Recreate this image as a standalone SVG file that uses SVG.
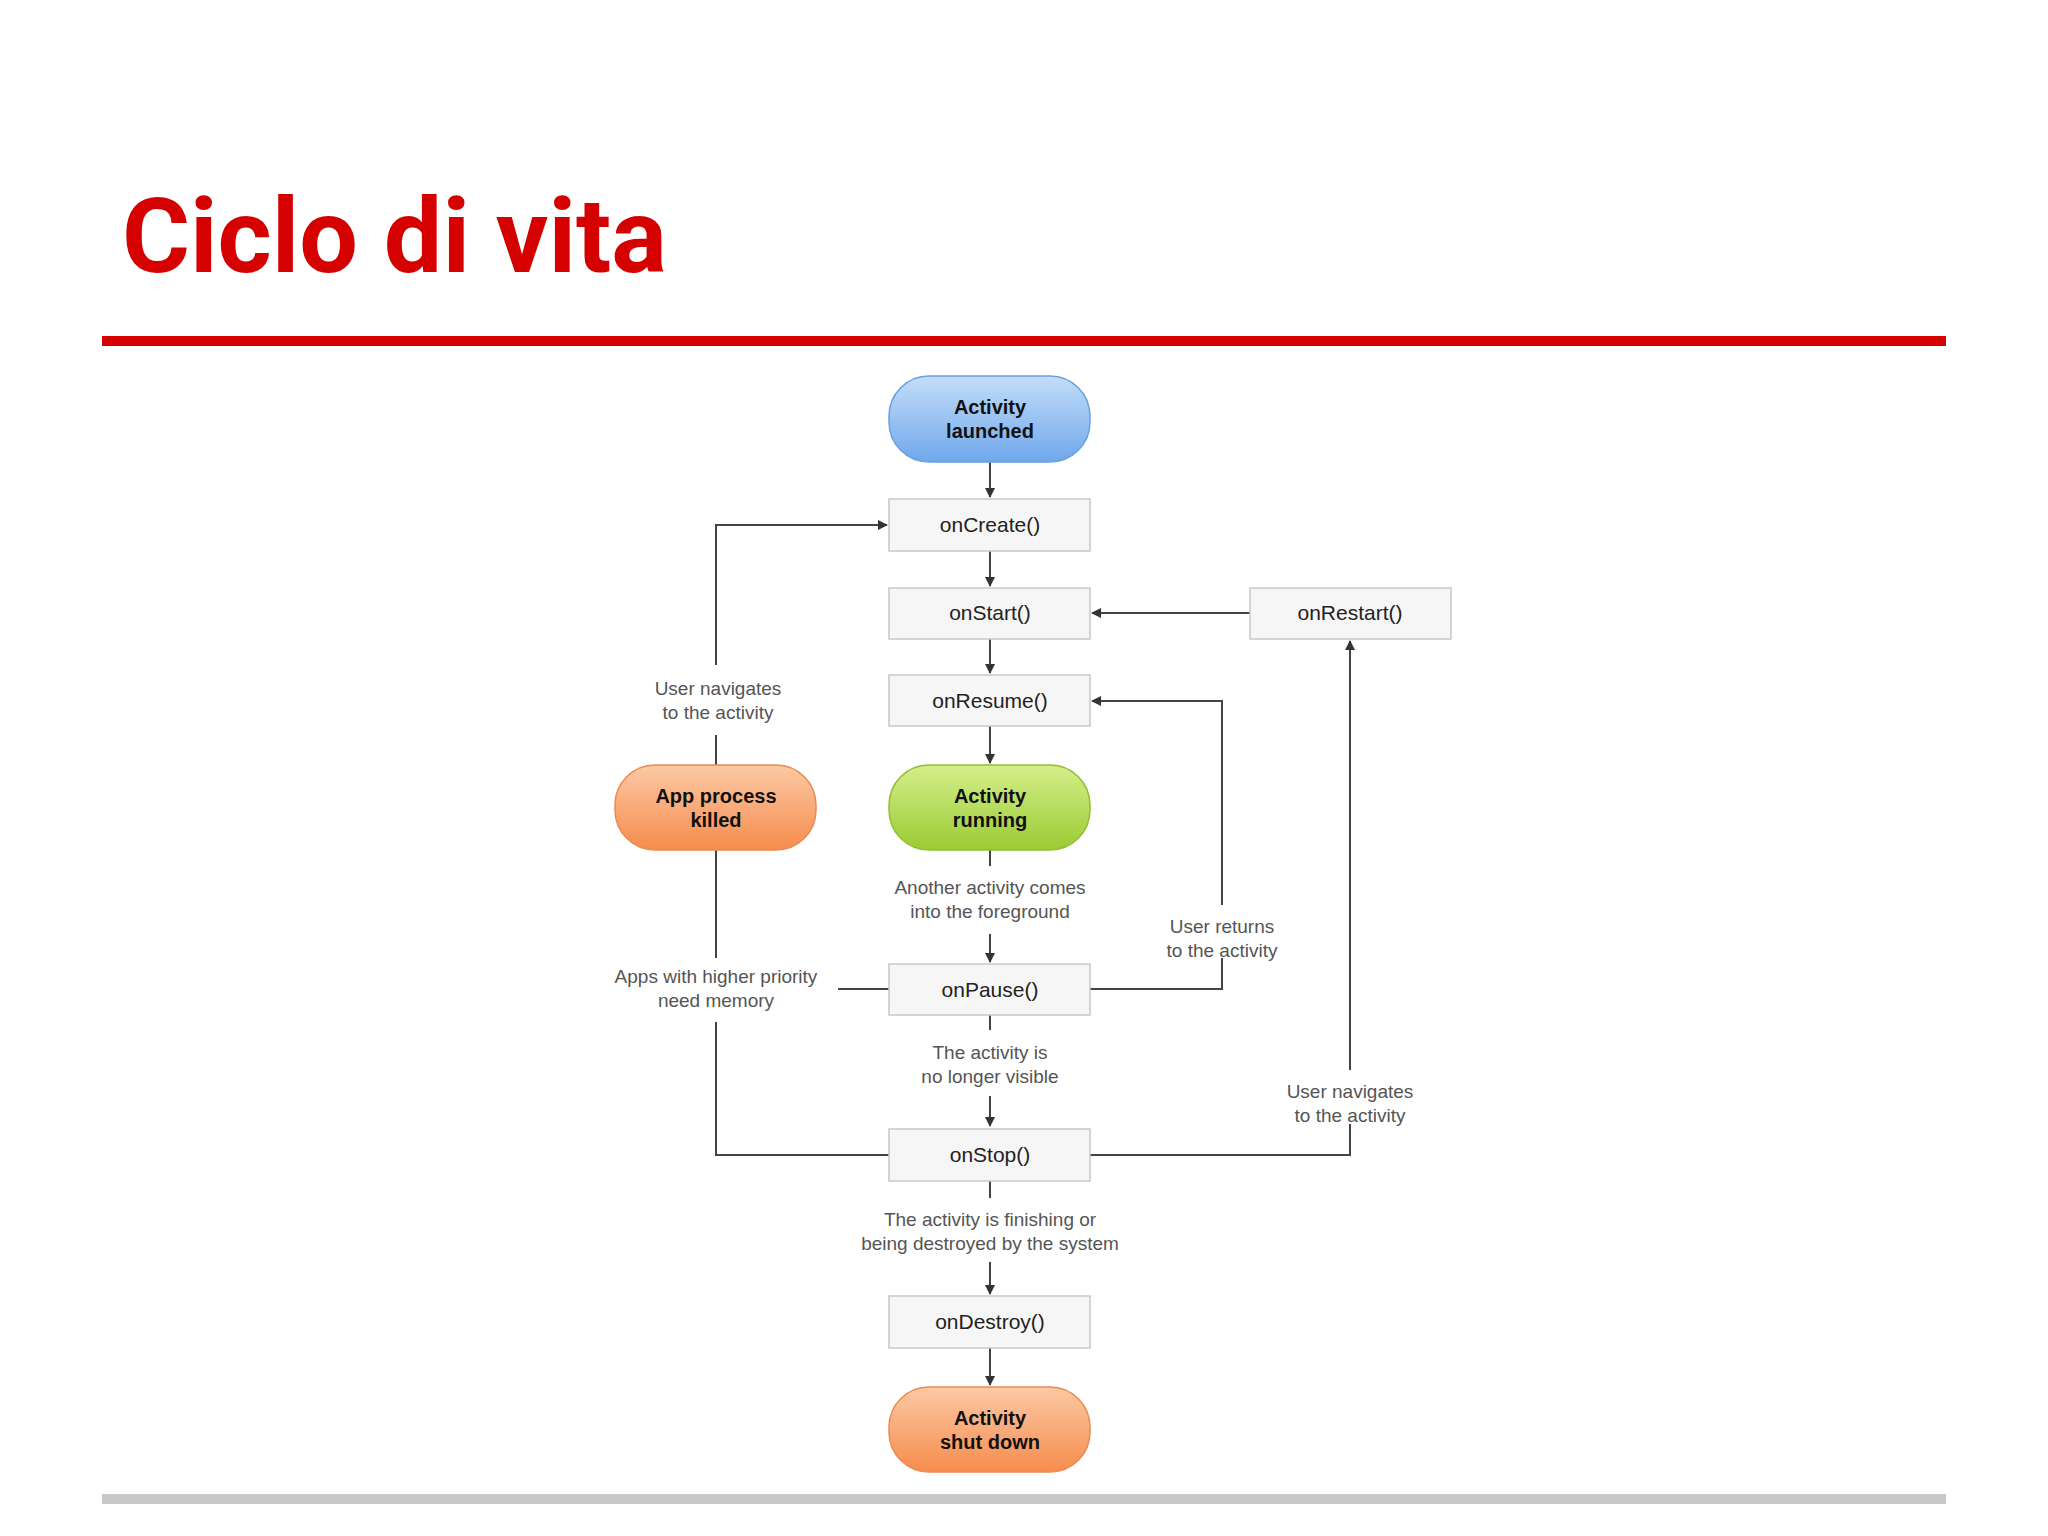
<svg xmlns="http://www.w3.org/2000/svg" width="2048" height="1536" viewBox="0 0 2048 1536">
<style>
.box{fill:#f6f6f6;stroke:#c8c8c8;stroke-width:1.5}
.bt{font-family:"Liberation Sans",Arial,sans-serif;font-size:21px;fill:#222;text-anchor:middle}
.pt{font-family:"Liberation Sans",Arial,sans-serif;font-size:20px;font-weight:bold;fill:#111;text-anchor:middle}
.lb{font-family:"Liberation Sans",Arial,sans-serif;font-size:19px;fill:#555;text-anchor:middle}
.c{fill:none;stroke:#444;stroke-width:2}
</style>
<defs>
<marker id="a" markerWidth="10" markerHeight="10" refX="9" refY="5" orient="auto" markerUnits="userSpaceOnUse"><path d="M0,0 L10,5 L0,10 Z" fill="#333"/></marker>
<linearGradient id="gb" x1="0" y1="0" x2="0" y2="1"><stop offset="0" stop-color="#c4ddf8"/><stop offset="1" stop-color="#6fa8ec"/></linearGradient>
<linearGradient id="gg" x1="0" y1="0" x2="0" y2="1"><stop offset="0" stop-color="#d6ee8a"/><stop offset="1" stop-color="#9acb34"/></linearGradient>
<linearGradient id="go" x1="0" y1="0" x2="0" y2="1"><stop offset="0" stop-color="#fcc9a4"/><stop offset="1" stop-color="#f68c4e"/></linearGradient>
</defs>
<rect width="2048" height="1536" fill="#fff"/>
<text x="122" y="272" font-family="Roboto,'Liberation Sans',sans-serif" font-weight="bold" font-size="104" fill="#d50000">Ciclo di vita</text>
<rect x="102" y="336" width="1844" height="10" fill="#d50000"/>
<rect x="102" y="1494" width="1844" height="10" fill="#c8c8c8"/>
<g id="connectors">
<line class="c" x1="990" y1="462" x2="990" y2="497" marker-end="url(#a)"/>
<line class="c" x1="990" y1="551" x2="990" y2="586" marker-end="url(#a)"/>
<line class="c" x1="990" y1="639" x2="990" y2="673" marker-end="url(#a)"/>
<line class="c" x1="990" y1="726" x2="990" y2="763" marker-end="url(#a)"/>
<line class="c" x1="990" y1="850" x2="990" y2="866"/>
<line class="c" x1="990" y1="934" x2="990" y2="962" marker-end="url(#a)"/>
<line class="c" x1="990" y1="1015" x2="990" y2="1030"/>
<line class="c" x1="990" y1="1096" x2="990" y2="1126" marker-end="url(#a)"/>
<line class="c" x1="990" y1="1181" x2="990" y2="1198"/>
<line class="c" x1="990" y1="1262" x2="990" y2="1294" marker-end="url(#a)"/>
<line class="c" x1="990" y1="1348" x2="990" y2="1385" marker-end="url(#a)"/>
<line class="c" x1="1250" y1="613" x2="1092" y2="613" marker-end="url(#a)"/>
<path class="c" d="M1090,989 H1222 V958"/>
<path class="c" d="M1222,905 V701 H1092" marker-end="url(#a)"/>
<path class="c" d="M1090,1155 H1350 V1124"/>
<path class="c" d="M1350,1070 V641" marker-end="url(#a)"/>
<path class="c" d="M889,1155 H716 V1022"/>
<path class="c" d="M716,958 V818" marker-end="url(#a)"/>
<path class="c" d="M889,989 H838"/>
<path class="c" d="M716,765 V735"/>
<path class="c" d="M716,665 V525 H887" marker-end="url(#a)"/>
</g>
<g id="labels">
<text class="lb" x="990" y="894">Another activity comes</text><text class="lb" x="990" y="918">into the foreground</text>
<text class="lb" x="990" y="1059">The activity is</text><text class="lb" x="990" y="1083">no longer visible</text>
<text class="lb" x="990" y="1226">The activity is finishing or</text><text class="lb" x="990" y="1250">being destroyed by the system</text>
<text class="lb" x="1222" y="933">User returns</text><text class="lb" x="1222" y="957">to the activity</text>
<text class="lb" x="1350" y="1098">User navigates</text><text class="lb" x="1350" y="1122">to the activity</text>
<text class="lb" x="716" y="983">Apps with higher priority</text><text class="lb" x="716" y="1007">need memory</text>
<text class="lb" x="718" y="695">User navigates</text><text class="lb" x="718" y="719">to the activity</text>
</g>
<g id="launched"><rect x="889" y="376" width="201" height="86" rx="40" fill="url(#gb)" stroke="#6a9fe0" stroke-width="1.5"/><text class="pt" x="990" y="414">Activity</text><text class="pt" x="990" y="438">launched</text></g>
<g id="onCreate"><rect class="box" x="889" y="499" width="201" height="52"/><text class="bt" x="990" y="532">onCreate()</text></g>
<g id="onStart"><rect class="box" x="889" y="588" width="201" height="51"/><text class="bt" x="990" y="620">onStart()</text></g>
<g id="onRestart"><rect class="box" x="1250" y="588" width="201" height="51"/><text class="bt" x="1350" y="620">onRestart()</text></g>
<g id="onResume"><rect class="box" x="889" y="675" width="201" height="51"/><text class="bt" x="990" y="708">onResume()</text></g>
<g id="running"><rect x="889" y="765" width="201" height="85" rx="40" fill="url(#gg)" stroke="#8fbf30" stroke-width="1.5"/><text class="pt" x="990" y="803">Activity</text><text class="pt" x="990" y="827">running</text></g>
<g id="killed"><rect x="615" y="765" width="201" height="85" rx="40" fill="url(#go)" stroke="#e98a50" stroke-width="1.5"/><text class="pt" x="716" y="803">App process</text><text class="pt" x="716" y="827">killed</text></g>
<g id="onPause"><rect class="box" x="889" y="964" width="201" height="51"/><text class="bt" x="990" y="997">onPause()</text></g>
<g id="onStop"><rect class="box" x="889" y="1129" width="201" height="52"/><text class="bt" x="990" y="1162">onStop()</text></g>
<g id="onDestroy"><rect class="box" x="889" y="1296" width="201" height="52"/><text class="bt" x="990" y="1329">onDestroy()</text></g>
<g id="shutdown"><rect x="889" y="1387" width="201" height="85" rx="40" fill="url(#go)" stroke="#e98a50" stroke-width="1.5"/><text class="pt" x="990" y="1425">Activity</text><text class="pt" x="990" y="1449">shut down</text></g>
</svg>
